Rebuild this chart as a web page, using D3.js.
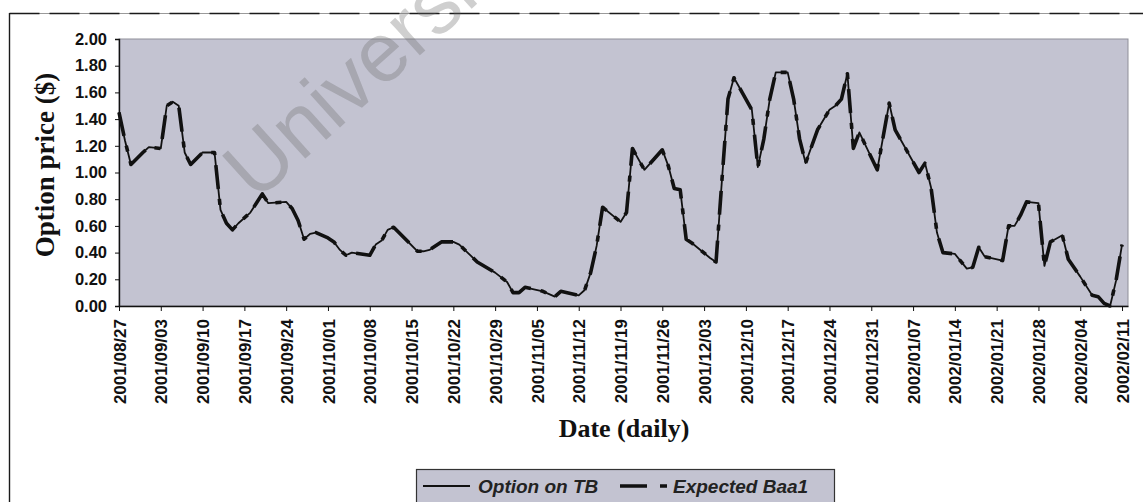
<!DOCTYPE html>
<html>
<head>
<meta charset="utf-8">
<script src="https://cdn.jsdelivr.net/npm/d3@7"></script>
<style>
  html, body { margin: 0; padding: 0; background: #ffffff; }
  svg { display: block; }
</style>
</head>
<body>
<svg id="chart" width="1143" height="502"></svg>
<script>
// ---------------- DATA ----------------
const dates = [
  "2001/08/27","2001/08/28","2001/08/29","2001/08/31","2001/09/01","2001/09/03","2001/09/04","2001/09/05","2001/09/06","2001/09/07",
  "2001/09/08","2001/09/10","2001/09/12","2001/09/13","2001/09/14","2001/09/15","2001/09/16","2001/09/18","2001/09/19","2001/09/20",
  "2001/09/21","2001/09/24","2001/09/25","2001/09/26","2001/09/27","2001/09/28","2001/09/29","2001/10/01","2001/10/02","2001/10/03",
  "2001/10/04","2001/10/05","2001/10/08","2001/10/09","2001/10/10","2001/10/11","2001/10/12","2001/10/14","2001/10/16","2001/10/17",
  "2001/10/18","2001/10/20","2001/10/22","2001/10/23","2001/10/26","2001/10/29","2001/10/31","2001/11/01","2001/11/02","2001/11/03",
  "2001/11/06","2001/11/08","2001/11/09","2001/11/12","2001/11/13","2001/11/14","2001/11/15","2001/11/16","2001/11/19","2001/11/20",
  "2001/11/21","2001/11/23","2001/11/26","2001/11/27","2001/11/28","2001/11/29","2001/11/30","2001/12/01","2001/12/04","2001/12/05",
  "2001/12/06","2001/12/07","2001/12/08","2001/12/11","2001/12/12","2001/12/13","2001/12/14","2001/12/15","2001/12/17","2001/12/18",
  "2001/12/19","2001/12/20","2001/12/22","2001/12/24","2001/12/25","2001/12/26","2001/12/27","2001/12/28","2001/12/29","2002/01/01",
  "2002/01/03","2002/01/04","2002/01/05","2002/01/08","2002/01/09","2002/01/10","2002/01/11","2002/01/12","2002/01/14","2002/01/16",
  "2002/01/17","2002/01/18","2002/01/19","2002/01/22","2002/01/23","2002/01/24","2002/01/25","2002/01/26","2002/01/28","2002/01/29",
  "2002/01/30","2002/02/01","2002/02/02","2002/02/04","2002/02/06","2002/02/07","2002/02/08","2002/02/09","2002/02/10","2002/02/11"
];

const optionOnTB = [
  1.45,1.24,1.06,1.15,1.19,1.18,1.50,1.53,1.50,1.15,
  1.06,1.15,1.15,0.72,0.62,0.57,0.62,0.70,0.77,0.84,
  0.77,0.78,0.73,0.64,0.50,0.54,0.55,0.51,0.48,0.42,
  0.38,0.40,0.38,0.46,0.49,0.57,0.59,0.50,0.41,0.41,
  0.42,0.48,0.48,0.46,0.33,0.25,0.18,0.10,0.10,0.14,
  0.11,0.07,0.11,0.08,0.12,0.25,0.45,0.74,0.63,0.70,
  1.18,1.02,1.17,1.05,0.88,0.87,0.50,0.47,0.36,0.33,
  0.95,1.55,1.71,1.47,1.04,1.25,1.55,1.75,1.75,1.55,
  1.25,1.07,1.32,1.47,1.50,1.55,1.74,1.18,1.30,1.02,
  1.52,1.32,1.24,1.00,1.07,0.89,0.55,0.40,0.39,0.28,
  0.29,0.44,0.37,0.34,0.60,0.60,0.68,0.78,0.77,0.30,
  0.48,0.53,0.35,0.22,0.08,0.07,0.02,0.00,0.19,0.46
];

const expectedBaa1 = [
  1.45,1.24,1.06,1.15,1.19,1.18,1.50,1.53,1.50,1.15,
  1.06,1.15,1.15,0.72,0.62,0.57,0.62,0.70,0.77,0.84,
  0.77,0.78,0.73,0.64,0.50,0.54,0.55,0.51,0.48,0.42,
  0.38,0.40,0.38,0.46,0.49,0.57,0.59,0.50,0.41,0.41,
  0.42,0.48,0.48,0.46,0.33,0.25,0.18,0.10,0.10,0.14,
  0.11,0.07,0.11,0.08,0.12,0.25,0.45,0.74,0.63,0.70,
  1.18,1.02,1.17,1.05,0.88,0.87,0.50,0.47,0.36,0.33,
  0.95,1.55,1.71,1.47,1.04,1.25,1.55,1.75,1.75,1.55,
  1.25,1.07,1.32,1.47,1.50,1.55,1.74,1.18,1.30,1.02,
  1.52,1.32,1.24,1.00,1.07,0.89,0.55,0.40,0.39,0.28,
  0.29,0.44,0.37,0.34,0.60,0.60,0.68,0.78,0.77,0.30,
  0.48,0.53,0.35,0.22,0.08,0.07,0.02,0.00,0.19,0.46
];

const tickDates = [
  "2001/08/27","2001/09/03","2001/09/10","2001/09/17","2001/09/24","2001/10/01","2001/10/08","2001/10/15",
  "2001/10/22","2001/10/29","2001/11/05","2001/11/12","2001/11/19","2001/11/26","2001/12/03","2001/12/10",
  "2001/12/17","2001/12/24","2001/12/31","2002/01/07","2002/01/14","2002/01/21","2002/01/28","2002/02/04","2002/02/11"
];
const yTicks = [0, 0.2, 0.4, 0.6, 0.8, 1.0, 1.2, 1.4, 1.6, 1.8, 2.0];
const seriesNames = ["Option on TB", "Expected Baa1"];
const xTitle = "Date (daily)";
const yTitle = "Option price ($)";
const watermark = "University";

// ---------------- LAYOUT ----------------
const parse = d3.timeParse("%Y/%m/%d");
const fmt = d3.timeFormat("%Y/%m/%d");
const plot = { left: 119, right: 1128, top: 39, bottom: 306 };
const svg = d3.select("#chart");

const x = d3.scaleTime()
  .domain([parse("2001/08/27"), parse("2002/02/12")])
  .range([plot.left, plot.right]);
const y = d3.scaleLinear().domain([0, 2]).range([plot.bottom, plot.top]);

const plotBg = "#c3c3d1";

// outer chart border (top & left visible)
svg.append("line").attr("x1", 9.5).attr("x2", 1143).attr("y1", 13.5).attr("y2", 13.5)
  .attr("stroke", "#9a9a9a").attr("stroke-width", 1.2);
svg.append("line").attr("x1", 9.5).attr("x2", 1143).attr("y1", 13.5).attr("y2", 13.5)
  .attr("stroke", "#1a1a1a").attr("stroke-width", 1.6).attr("stroke-dasharray", "30,10");
svg.append("line").attr("x1", 9.5).attr("x2", 9.5).attr("y1", 13).attr("y2", 502)
  .attr("stroke", "#1a1a1a").attr("stroke-width", 1.4);

// plot area
svg.append("rect")
  .attr("x", plot.left).attr("y", plot.top)
  .attr("width", plot.right - plot.left).attr("height", plot.bottom - plot.top)
  .attr("fill", plotBg).attr("stroke", "#8f8f99").attr("stroke-width", 1);

// y axis
const yAxis = d3.axisLeft(y).tickValues(yTicks).tickFormat(d3.format(".2f")).tickSize(4).tickPadding(8);
const gy = svg.append("g").attr("transform", `translate(${plot.left},0)`).call(yAxis);
gy.select(".domain").attr("stroke", "#111").attr("stroke-width", 1.4);
gy.selectAll(".tick line").attr("stroke", "#111");
gy.selectAll("text")
  .attr("font-family", "'Liberation Sans', Arial, sans-serif")
  .attr("font-weight", "bold").attr("font-size", 16.5).attr("fill", "#111");

// x axis
const xAxis = d3.axisBottom(x).tickValues(tickDates.map(parse)).tickFormat(fmt).tickSize(5).tickSizeOuter(0);
const gx = svg.append("g").attr("transform", `translate(0,${plot.bottom})`).call(xAxis);
gx.select(".domain").attr("stroke", "#111").attr("stroke-width", 1.6);
gx.selectAll(".tick line").attr("stroke", "#111");
gx.selectAll("text")
  .attr("font-family", "'Liberation Sans', Arial, sans-serif")
  .attr("font-weight", "bold").attr("font-size", 17).attr("fill", "#111")
  .attr("text-anchor", "end")
  .attr("transform", "rotate(-90)")
  .attr("x", -13).attr("y", 0).attr("dy", "0.36em");

// lines
const pts1 = dates.map((d, i) => ({ date: parse(d), v: optionOnTB[i] }));
const pts2 = dates.map((d, i) => ({ date: parse(d), v: expectedBaa1[i] }));
const line = d3.line().x(d => x(d.date)).y(d => y(d.v));

svg.append("path").datum(pts1).attr("d", line)
  .attr("fill", "none").attr("stroke", "#111").attr("stroke-width", 1.8)
  .attr("stroke-linejoin", "round");
svg.append("path").datum(pts2).attr("d", line)
  .attr("fill", "none").attr("stroke", "#111").attr("stroke-width", 3.6)
  .attr("stroke-dasharray", "24,10,6,10").attr("stroke-linejoin", "round");

// titles
svg.append("text")
  .attr("transform", "translate(54,165) rotate(-90)")
  .attr("text-anchor", "middle")
  .attr("font-family", "'Liberation Serif', 'Times New Roman', serif")
  .attr("font-weight", "bold").attr("font-size", 27).attr("fill", "#111")
  .text(yTitle);

svg.append("text")
  .attr("x", 624).attr("y", 437)
  .attr("text-anchor", "middle")
  .attr("font-family", "'Liberation Serif', 'Times New Roman', serif")
  .attr("font-weight", "bold").attr("font-size", 26).attr("fill", "#111")
  .text(xTitle);

// legend
const lg = svg.append("g");
lg.append("rect").attr("x", 416.5).attr("y", 469.5).attr("width", 418).attr("height", 45)
  .attr("fill", plotBg).attr("stroke", "#333").attr("stroke-width", 1.2);
lg.append("line").attr("x1", 423).attr("x2", 470).attr("y1", 486).attr("y2", 486)
  .attr("stroke", "#111").attr("stroke-width", 1.8);
lg.append("text").attr("x", 478).attr("y", 493)
  .attr("font-family", "'Liberation Sans', Arial, sans-serif")
  .attr("font-style", "italic").attr("font-weight", "bold").attr("font-size", 19).attr("fill", "#222")
  .text(seriesNames[0]);
lg.append("line").attr("x1", 620).attr("x2", 667).attr("y1", 486).attr("y2", 486)
  .attr("stroke", "#111").attr("stroke-width", 3.6).attr("stroke-dasharray", "27,13,7,20");
lg.append("text").attr("x", 673).attr("y", 493)
  .attr("font-family", "'Liberation Sans', Arial, sans-serif")
  .attr("font-style", "italic").attr("font-weight", "bold").attr("font-size", 19).attr("fill", "#222")
  .text(seriesNames[1]);

// watermark
svg.append("text")
  .attr("transform", "translate(256,203) rotate(-42)")
  .attr("font-family", "'Liberation Sans', Arial, sans-serif")
  .attr("font-size", 84).attr("fill", "#6e6e6e").attr("fill-opacity", 0.33)
  .text(watermark);
</script>
</body>
</html>
